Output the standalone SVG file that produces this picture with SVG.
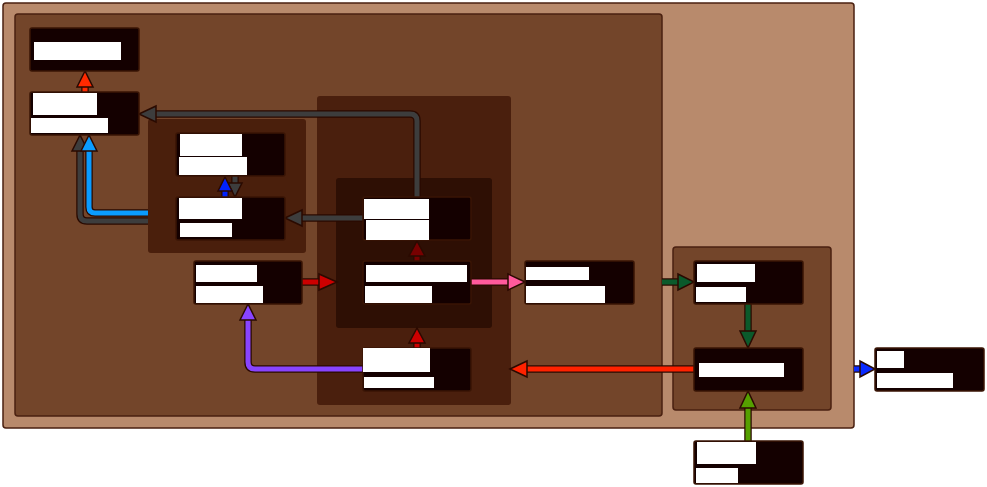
<svg xmlns="http://www.w3.org/2000/svg" width="987" height="487" viewBox="0 0 987 487">
<style>
.cont{stroke:#4a2010;stroke-width:1.5}
.node{fill:#140000;stroke:#3a1505;stroke-width:1.5}
.lbl{fill:#ffffff}
.out{fill:none;stroke:#2a0a00;stroke-width:7.5}
.ln{fill:none;stroke-width:5}
.ah{stroke:#2a0a00;stroke-width:1.5;stroke-linejoin:miter}
</style>
<rect width="987" height="487" fill="#ffffff"/>
<g id="containers">
<rect id="outer" class="cont" x="3" y="3" width="851" height="425" rx="3" fill="#b88a6c"/>
<rect id="inner" class="cont" x="15" y="14" width="647" height="402" rx="3" fill="#73452a"/>
<rect id="groupA" x="148" y="119" width="158" height="134" rx="3" fill="#4a1f0c"/>
<rect id="groupB" x="317" y="96" width="194" height="309" rx="3" fill="#4a1f0d"/>
<rect id="groupC" x="336" y="178" width="156" height="150" rx="3" fill="#2e0f04"/>
<rect id="groupD" class="cont" x="673" y="247" width="158" height="163" rx="3" fill="#73452a"/>
</g>
<g id="connectors">
<!-- red N2 -> N1 -->
<path class="out" d="M85,92 V86"/><path class="ln" stroke="#ff2a00" d="M85,92 V86"/>
<polygon class="ah" fill="#ff2a00" points="85,71 77,87 93,87"/>
<!-- gray N5 -> N2 -->
<path class="out" d="M417,197 V121 Q417,114 410,114 H156"/><path class="ln" stroke="#3d3d3d" d="M417,197 V121 Q417,114 410,114 H156"/>
<polygon class="ah" fill="#3d3d3d" points="139,114 156,106 156,122"/>
<!-- gray N5 -> N4 -->
<path class="out" d="M363,218 H301"/><path class="ln" stroke="#3d3d3d" d="M363,218 H301"/>
<polygon class="ah" fill="#3d3d3d" points="285,218 302,210 302,226"/>
<!-- gray groupA -> N2 -->
<path class="out" d="M148,221 H87 Q80,221 80,214 V150"/><path class="ln" stroke="#3d3d3d" d="M148,221 H87 Q80,221 80,214 V150"/>
<polygon class="ah" fill="#3d3d3d" points="80,135 72,151 88,151"/>
<!-- blue groupA -> N2 -->
<path class="out" d="M148,213 H95 Q89,213 89,207 V150"/><path class="ln" stroke="#0a9cff" d="M148,213 H95 Q89,213 89,207 V150"/>
<polygon class="ah" fill="#0a9cff" points="89,135 81,151 97,151"/>
<!-- gray N3 -> N4 -->
<path class="out" d="M235,176 V184"/><path class="ln" stroke="#3d3d3d" d="M235,176 V184"/>
<polygon class="ah" fill="#3d3d3d" points="235,197 228,183 242,183"/>
<!-- blue N4 -> N3 -->
<path class="out" d="M225,197 V190"/><path class="ln" stroke="#0022ff" d="M225,197 V190"/>
<polygon class="ah" fill="#0022ff" points="225,177 218,191 232,191"/>
<!-- red N6 -> groupC -->
<path class="out" d="M302,282 H319"/><path class="ln" stroke="#cc0000" d="M302,282 H319"/>
<polygon class="ah" fill="#cc0000" points="337,282 319,274 319,290"/>
<!-- maroon N7 -> N5 -->
<path class="out" d="M417,261 V255"/><path class="ln" stroke="#770000" d="M417,261 V255"/>
<polygon class="ah" fill="#770000" points="417,241 409,256 425,256"/>
<!-- red N8 -> groupC -->
<path class="out" d="M417,348 V342"/><path class="ln" stroke="#cc0000" d="M417,348 V342"/>
<polygon class="ah" fill="#cc0000" points="417,328 409,343 425,343"/>
<!-- pink N7 -> N9 -->
<path class="out" d="M471,282 H509"/><path class="ln" stroke="#ff5a9c" d="M471,282 H509"/>
<polygon class="ah" fill="#ff5a9c" points="525,282 508,274 508,290"/>
<!-- purple N8 -> N6 -->
<path class="out" d="M363,369 H255 Q248,369 248,362 V320"/><path class="ln" stroke="#8844ff" d="M363,369 H255 Q248,369 248,362 V320"/>
<polygon class="ah" fill="#8844ff" points="248,304 240,320 256,320"/>
<!-- red-orange N11 -> groupB -->
<path class="out" d="M694,369 H526"/><path class="ln" stroke="#ff2200" d="M694,369 H526"/>
<polygon class="ah" fill="#ff2200" points="510,369 527,361 527,377"/>
<!-- dark green inner -> N10 -->
<path class="out" d="M662,282 H679"/><path class="ln" stroke="#0b5a2b" d="M662,282 H679"/>
<polygon class="ah" fill="#0b5a2b" points="694,282 678,274 678,290"/>
<!-- dark green N10 -> N11 -->
<path class="out" d="M748,304 V332"/><path class="ln" stroke="#0b5a2b" d="M748,304 V332"/>
<polygon class="ah" fill="#0b5a2b" points="748,348 740,331 756,331"/>
<!-- light green N13 -> N11 -->
<path class="out" d="M748,441 V407"/><path class="ln" stroke="#55a000" d="M748,441 V407"/>
<polygon class="ah" fill="#55a000" points="748,391 740,408 756,408"/>
<!-- blue outer -> N12 -->
<path class="out" d="M854,369 H861"/><path class="ln" stroke="#0a2aff" d="M854,369 H861"/>
<polygon class="ah" fill="#0a2aff" points="875,369 860,361 860,377"/>
</g>
<g id="N1"><rect class="node" x="30" y="28" width="109" height="43" rx="2"/><rect class="lbl" x="34" y="42" width="87" height="18"/></g>
<g id="N2"><rect class="node" x="30" y="92" width="109" height="43" rx="2"/><rect class="lbl" x="33" y="93" width="64" height="22"/><rect class="lbl" x="31" y="118" width="77" height="15"/></g>
<g id="N3"><rect class="node" x="176" y="133" width="109" height="43" rx="2"/><rect class="lbl" x="180" y="134" width="62" height="22"/><rect class="lbl" x="179" y="157" width="68" height="18"/></g>
<g id="N4"><rect class="node" x="176" y="197" width="109" height="43" rx="2"/><rect class="lbl" x="179" y="198" width="63" height="21"/><rect class="lbl" x="180" y="223" width="52" height="14"/></g>
<g id="N5"><rect class="node" x="363" y="197" width="108" height="43" rx="2"/><rect class="lbl" x="364" y="199" width="65" height="20"/><rect class="lbl" x="366" y="220" width="63" height="20"/></g>
<g id="N6"><rect class="node" x="194" y="261" width="108" height="43" rx="2"/><rect class="lbl" x="196" y="265" width="61" height="17"/><rect class="lbl" x="196" y="286" width="67" height="17"/></g>
<g id="N7"><rect class="node" x="363" y="261" width="108" height="43" rx="2"/><rect class="lbl" x="366" y="265" width="101" height="17"/><rect class="lbl" x="365" y="286" width="67" height="17"/></g>
<g id="N8"><rect class="node" x="363" y="348" width="108" height="43" rx="2"/><rect class="lbl" x="363" y="348" width="67" height="24"/><rect class="lbl" x="364" y="377" width="70" height="11"/></g>
<g id="N9"><rect class="node" x="525" y="261" width="109" height="43" rx="2"/><rect class="lbl" x="526" y="267" width="63" height="13"/><rect class="lbl" x="526" y="286" width="79" height="17"/></g>
<g id="N10"><rect class="node" x="694" y="261" width="109" height="43" rx="2"/><rect class="lbl" x="697" y="264" width="58" height="18"/><rect class="lbl" x="696" y="287" width="50" height="15"/></g>
<g id="N11"><rect class="node" x="694" y="348" width="109" height="43" rx="2"/><rect class="lbl" x="699" y="363" width="85" height="14"/></g>
<g id="N12"><rect class="node" x="875" y="348" width="109" height="43" rx="2"/><rect class="lbl" x="877" y="351" width="27" height="17"/><rect class="lbl" x="877" y="373" width="76" height="15"/></g>
<g id="N13"><rect class="node" x="694" y="441" width="109" height="43" rx="2"/><rect class="lbl" x="697" y="442" width="59" height="22"/><rect class="lbl" x="696" y="468" width="42" height="15"/></g>
</svg>
